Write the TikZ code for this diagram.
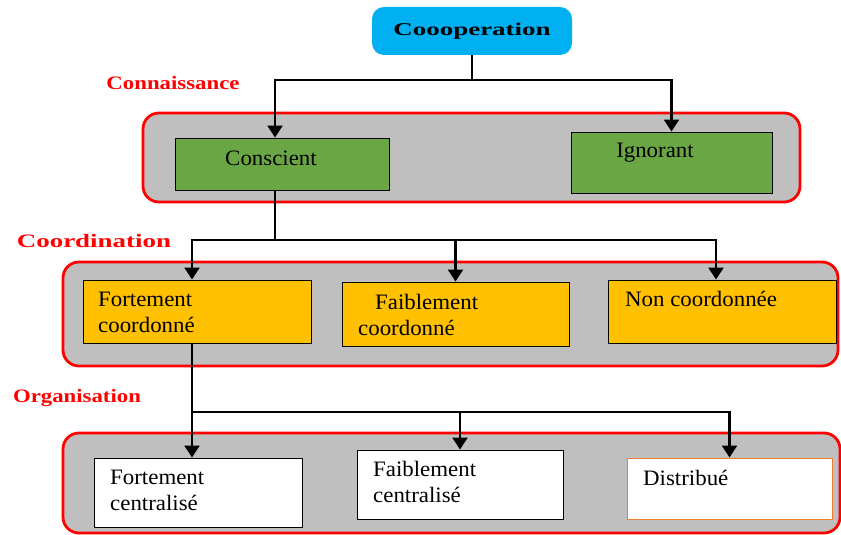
\documentclass[tikz,border=0pt]{standalone}
\usepackage{fontspec}
\setmainfont{Liberation Serif}[FakeStretch=1.04]
\newfontfamily\headfont{Liberation Serif}[FakeStretch=1.2]
\newfontfamily\wideheadfont{Liberation Serif}[FakeStretch=1.42]
\newfontfamily\topfont{Liberation Serif}[FakeStretch=1.5]
\usetikzlibrary{arrows.meta}
\definecolor{coopblue}{RGB}{0,176,240}
\definecolor{leafgreen}{RGB}{106,166,68}
\definecolor{boxyellow}{RGB}{255,192,0}
\definecolor{panelgray}{RGB}{191,191,191}
\definecolor{distorange}{RGB}{237,125,49}
\tikzset{
  panel/.style={draw=red, line width=2.8pt, fill=panelgray, rounded corners=16pt, inner sep=0pt},
  box/.style={draw=black, line width=1pt, inner sep=0pt},
  greenbox/.style={box, fill=leafgreen},
  yellowbox/.style={box, fill=boxyellow},
  whitebox/.style={box, fill=white},
  txt/.style={inner sep=0pt, align=left, font=\fontsize{22}{26}\selectfont},
  levellbl/.style={inner sep=0pt, text=red, font=\headfont\bfseries\fontsize{19}{22}\selectfont},
  link/.style={line width=2.5pt},
  arrow/.style={link, -{Triangle[length=12pt,width=15pt]}}
}
\begin{document}
\begin{tikzpicture}[x=1pt, y=-1pt]
\useasboundingbox (0,0) rectangle (841,535);
% panels
\node[panel, minimum width=657pt, minimum height=89pt] (panelA) at (471.5,157.5) {};
\node[panel, minimum width=775pt, minimum height=104pt] (panelB) at (450.5,314) {};
\node[panel, minimum width=777pt, minimum height=100pt] (panelC) at (451.5,483) {};
% level names
\node[levellbl] (connLbl) at (173,83) {Connaissance};
\node[levellbl, font=\wideheadfont\bfseries\fontsize{19}{22}\selectfont] (coordLbl) at (94,241) {Coordination};
\node[levellbl] (orgLbl) at (77,398) {Organisation};
% top
\node[fill=coopblue, rounded corners=12pt, minimum width=200pt, minimum height=48pt, font=\topfont\bfseries\fontsize{18}{22}\selectfont] (coop) at (472,31) {Coooperation};
% Connaissance
\node[greenbox, minimum width=214pt, minimum height=52pt] (conscient) at (282,164) {};
\node[greenbox, minimum width=201pt, minimum height=61pt] (ignorant) at (671.5,162.5) {};
\node[txt] (conscientT) at (271,158) {Conscient};
\node[txt] (ignorantT) at (655,153) {Ignorant};
% Coordination
\node[yellowbox, minimum width=228pt, minimum height=63pt] (fcoord) at (197,311.5) {};
\node[yellowbox, minimum width=227pt, minimum height=64pt] (wcoord) at (455.5,314) {};
\node[yellowbox, minimum width=228pt, minimum height=63pt] (ncoord) at (722,311.5) {};
\node[txt, anchor=west] (fcoordT) at (98,312) {Fortement\\coordonné};
\node[txt, anchor=west] (wcoordT) at (358,315) {\hspace*{17pt}Faiblement\\coordonné};
\node[txt, anchor=west] (ncoordT) at (625,299) {Non coordonnée};
% Organisation
\node[whitebox, minimum width=208pt, minimum height=69pt] (fcent) at (198,492.5) {};
\node[whitebox, minimum width=206pt, minimum height=69pt] (wcent) at (460,484.5) {};
\node[whitebox, draw=distorange, minimum width=205pt, minimum height=61pt] (dist) at (729.5,488.5) {};
\node[txt, anchor=west] (fcentT) at (110,490) {Fortement\\centralisé};
\node[txt, anchor=west] (wcentT) at (373,482) {Faiblement\\centralisé};
\node[txt, anchor=west] (distT) at (643,478) {Distribué};
% connectors
\coordinate (k1) at (472,80);
\coordinate (k2) at (275,240);
\coordinate (k3) at (192,412);
\draw[link] (coop) -- (k1);
\draw[arrow] (k1) -| (k2 |- conscient.north);
\draw[arrow] (k1) -| (ignorant.north);
\draw[link] (k2 |- conscient.south) -- (k2);
\draw[arrow] (k2) -| (k3 |- fcoord.north);
\draw[arrow] (k2) -| (wcoord.north);
\draw[arrow] (k2) -| ([xshift=-6pt]ncoord.north);
\draw[arrow] (k3 |- fcoord.south) -- (k3 |- fcent.north);
\draw[arrow] (k3) -| (wcent.north);
\draw[arrow] (k3) -| (dist.north);
\end{tikzpicture}
\end{document}
